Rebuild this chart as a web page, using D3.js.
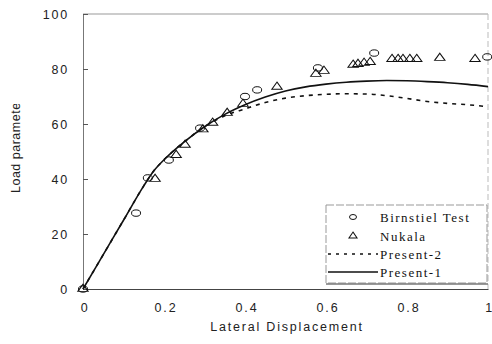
<!DOCTYPE html>
<html>
<head>
<meta charset="utf-8">
<script src="https://cdn.jsdelivr.net/npm/d3@7"></script>
<style>
  body { margin: 0; background: #fff; }
  svg { display: block; }
  .tick text { font-family: "Liberation Sans", Arial, sans-serif; font-size: 12.5px; letter-spacing: 1.8px; fill: #222; }
</style>
</head>
<body>
<div id="chart"></div>
<script>
// test data (Birnstiel) and Nukala results
var birnX = [0, 0.131, 0.160, 0.212, 0.289, 0.400, 0.430, 0.580, 0.719, 0.998];
var birnY = [0, 27.6, 40.4, 46.9, 58.5, 70.0, 72.4, 80.4, 85.8, 84.4];

var nukX = [0, 0.178, 0.230, 0.252, 0.296, 0.320, 0.356, 0.395, 0.479, 0.575, 0.595,
            0.667, 0.679, 0.694, 0.709, 0.763, 0.778, 0.790, 0.807, 0.824, 0.881, 0.968];
var nukY = [0, 40, 48.7, 52.4, 58, 60.4, 64, 67.3, 73.5, 78.2, 79.3,
            81.5, 81.8, 82.2, 82.5, 83.6, 83.6, 83.6, 83.6, 83.6, 84, 83.6];

// analysis curves
var curveX = [0, 0.05, 0.1, 0.15, 0.175, 0.2, 0.25, 0.3, 0.35, 0.4, 0.45, 0.5, 0.55,
              0.6, 0.65, 0.7, 0.75, 0.8, 0.85, 0.9, 0.95, 1.0];
var present1 = [0, 12.5, 25, 37.5, 43, 47, 53.5, 59, 63.5, 67, 69.8, 72, 73.5,
                74.5, 75.2, 75.6, 75.8, 75.7, 75.4, 75, 74.4, 73.6];
var present2 = [0, 12.5, 25, 37.5, 43, 47, 53.5, 59, 63, 65.5, 67.8, 69.4, 70.3,
                70.8, 71, 70.9, 70.3, 69.3, 68.2, 67.5, 67, 66.3];

var xTicks = [0, 0.2, 0.4, 0.6, 0.8, 1];
var yTicks = [0, 20, 40, 60, 80, 100];
var legendNames = ["Birnstiel Test", "Nukala", "Present-2", "Present-1"];

var W = 492, H = 344;
var margin = {top: 14, right: 4, bottom: 55, left: 83};
var width = W - margin.left - margin.right,
    height = H - margin.top - margin.bottom;

var x = d3.scaleLinear().domain([0, 1]).range([0, width]);
var y = d3.scaleLinear().domain([0, 100]).range([height, 0]);

var svg = d3.select("#chart").append("svg")
    .attr("width", W)
    .attr("height", H);

var g = svg.append("g")
    .attr("transform", "translate(" + margin.left + "," + margin.top + ")");

// frame
g.append("line").attr("x1", 0).attr("x2", width).attr("y1", 0).attr("y2", 0)
    .attr("stroke", "#999").attr("stroke-width", 1);
g.append("line").attr("x1", width).attr("x2", width).attr("y1", 0).attr("y2", height)
    .attr("stroke", "#bbb").attr("stroke-width", 1).attr("stroke-dasharray", "6,3");

// axes
var xAxis = g.append("g")
    .attr("transform", "translate(0," + height + ")")
    .call(d3.axisBottom(x).tickValues(xTicks).tickSize(0).tickPadding(14)
      .tickFormat(function(d) { return d === 0 || d === 1 ? d : d3.format(".1f")(d); }));
xAxis.select(".domain").attr("stroke", "#444");
xAxis.selectAll(".tick text").attr("dx", "0.12em");
// last label sits on the right edge, keep it inside
xAxis.selectAll(".tick text").filter(function(d) { return d === 1; })
    .attr("text-anchor", "end").attr("dx", "0.3em").style("letter-spacing", "0px");

var yAxis = g.append("g")
    .call(d3.axisLeft(y).tickValues(yTicks).tickSize(-5).tickPadding(14));
yAxis.select(".domain").attr("stroke", "#777");
yAxis.selectAll(".tick line").attr("stroke", "#555");
yAxis.selectAll(".tick text").attr("dy", "0.36em");

// axis titles
svg.append("text")
    .attr("x", 287)
    .attr("y", 331)
    .attr("text-anchor", "middle")
    .style("font-family", "Liberation Sans, Arial, sans-serif")
    .style("font-size", "12.5px")
    .style("letter-spacing", "1.8px")
    .attr("fill", "#222")
    .text("Lateral Displacement");

svg.append("clipPath").attr("id", "ylabclip")
  .append("rect").attr("x", 0).attr("y", 104).attr("width", 40).attr("height", 120);

svg.append("g")
    .attr("clip-path", "url(#ylabclip)")
  .append("text")
    .attr("transform", "translate(20,193) rotate(-90)")
    .attr("text-anchor", "start")
    .style("font-family", "Liberation Sans, Arial, sans-serif")
    .style("font-size", "12.5px")
    .style("letter-spacing", "0.5px")
    .attr("fill", "#222")
    .text("Load parameter");

// curves
var line = d3.line()
    .x(function(d) { return x(d[0]); })
    .y(function(d) { return y(d[1]); })
    .curve(d3.curveMonotoneX);

g.append("path")
    .datum(curveX.map(function(v, i) { return [v, present2[i]]; }))
    .attr("d", line)
    .attr("fill", "none")
    .attr("stroke", "#111")
    .attr("stroke-width", 1.6)
    .attr("stroke-dasharray", "4,5");

g.append("path")
    .datum(curveX.map(function(v, i) { return [v, present1[i]]; }))
    .attr("d", line)
    .attr("fill", "none")
    .attr("stroke", "#111")
    .attr("stroke-width", 1.6);

// markers
var tri = d3.symbol().type(d3.symbolTriangle).size(30);

g.selectAll(".birn")
    .data(birnX.map(function(v, i) { return [v, birnY[i]]; }))
  .enter().append("ellipse")
    .attr("class", "birn")
    .attr("cx", function(d) { return x(d[0]); })
    .attr("cy", function(d) { return y(d[1]); })
    .attr("rx", 4.5)
    .attr("ry", 3.2)
    .attr("fill", "none")
    .attr("stroke", "#111")
    .attr("stroke-width", 1);

g.selectAll(".nuk")
    .data(nukX.map(function(v, i) { return [v, nukY[i]]; }))
  .enter().append("path")
    .attr("class", "nuk")
    .attr("d", tri)
    .attr("transform", function(d) { return "translate(" + x(d[0]) + "," + y(d[1]) + ") scale(1.25,1)"; })
    .attr("fill", "none")
    .attr("stroke", "#111")
    .attr("stroke-width", 0.9);

// legend
var leg = svg.append("g");
leg.append("rect")
    .attr("x", 326).attr("y", 205)
    .attr("width", 161).attr("height", 78)
    .attr("fill", "#fff")
    .attr("stroke", "#999")
    .attr("stroke-width", 1)
    .attr("stroke-dasharray", "8,2");
leg.append("line")
    .attr("x1", 326).attr("x2", 488).attr("y1", 284).attr("y2", 284)
    .attr("stroke", "#777").attr("stroke-width", 1.5);

var legY = [217, 236, 254, 272];
leg.selectAll("text")
    .data(legendNames)
  .enter().append("text")
    .attr("x", 380)
    .attr("y", function(d, i) { return legY[i]; })
    .attr("dy", "0.35em")
    .style("font-family", "Liberation Serif, Times New Roman, serif")
    .style("font-size", "13px")
    .style("letter-spacing", "1.5px")
    .attr("fill", "#111")
    .text(function(d) { return d; });

leg.append("ellipse")
    .attr("cx", 353).attr("cy", legY[0]).attr("rx", 3.5).attr("ry", 2.5)
    .attr("fill", "none").attr("stroke", "#111").attr("stroke-width", 1);
leg.append("path")
    .attr("d", d3.symbol().type(d3.symbolTriangle).size(20))
    .attr("transform", "translate(353," + legY[1] + ") scale(1.2,1)")
    .attr("fill", "none").attr("stroke", "#111").attr("stroke-width", 0.9);
leg.append("line")
    .attr("x1", 328).attr("x2", 378).attr("y1", legY[2]).attr("y2", legY[2])
    .attr("stroke", "#111").attr("stroke-width", 1.4).attr("stroke-dasharray", "3,5");
leg.append("line")
    .attr("x1", 328).attr("x2", 378).attr("y1", legY[3]).attr("y2", legY[3])
    .attr("stroke", "#111").attr("stroke-width", 1.4);
</script>
</body>
</html>
